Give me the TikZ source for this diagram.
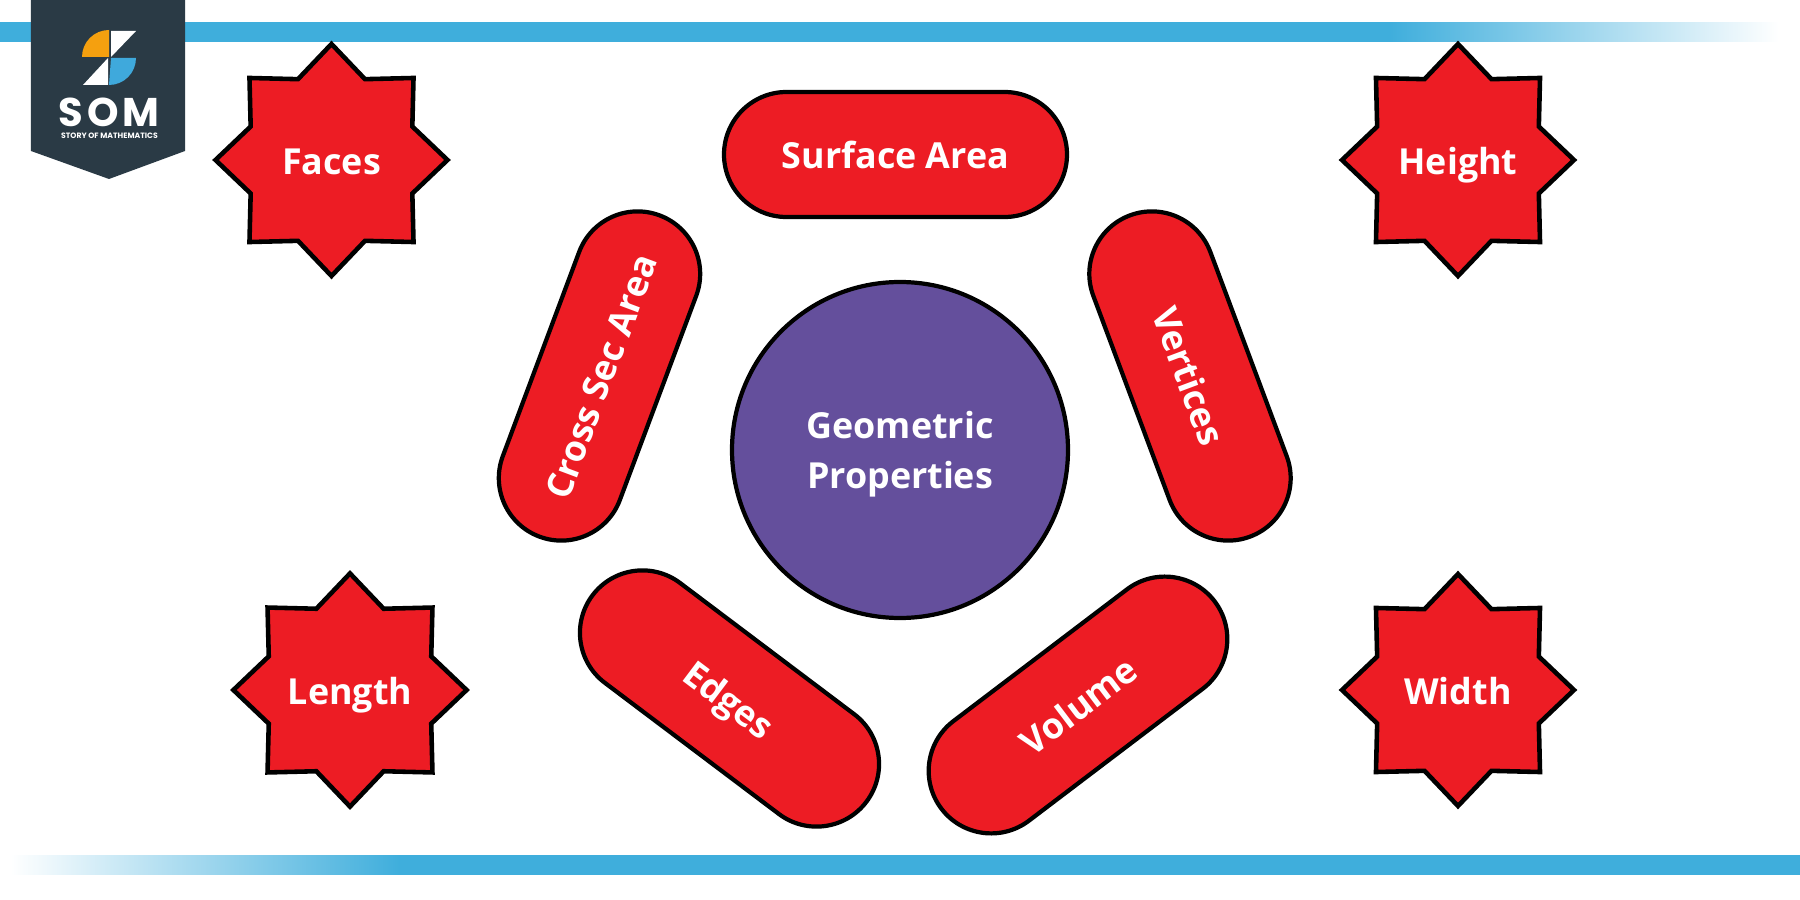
\documentclass[tikz,border=0pt]{standalone}
\usepackage{fontspec}
\setmainfont{Open Sans}
\newfontfamily\logofont[LetterSpace=9]{Poppins}
\newfontfamily\logosmallfont{Poppins}
\usetikzlibrary{shapes.geometric, shapes.misc}

\definecolor{barblue}{HTML}{3FAEDC}
\definecolor{logodark}{HTML}{2A3A45}
\definecolor{logoorange}{HTML}{F5A00F}
\definecolor{logoblue}{HTML}{3FA9DC}
\definecolor{propred}{HTML}{ED1C24}
\definecolor{proppurple}{HTML}{644F9C}

\pgfdeclarehorizontalshading{topbarfade}{100bp}{color(0bp)=(barblue); color(63.6bp)=(barblue); color(74.4bp)=(white); color(100bp)=(white)}
\pgfdeclarehorizontalshading{bottombarfade}{100bp}{color(0bp)=(white); color(25.3bp)=(white); color(36.1bp)=(barblue); color(100bp)=(barblue)}

\tikzset{
  propstar/.style={star, star points=8, star point ratio=1.326, minimum size=2.32cm,
    inner sep=0pt, draw=black, fill=propred, line width=1.3pt, miter limit=10,
    text=white, font=\fontsize{10.2}{12}\selectfont\bfseries, text height=0.29cm, text depth=0pt},
  proppill/.style={rounded rectangle, minimum width=3.43cm, minimum height=1.25cm,
    inner sep=0pt, draw=black, fill=propred, line width=1.2pt,
    text=white, font=\fontsize{10.2}{12}\selectfont\bfseries, text height=0.29cm, text depth=0pt},
}

\begin{document}
\begin{tikzpicture}

  \useasboundingbox (0, 0) rectangle (18, 9);
  \fill[white] (0, 0) rectangle (18, 9);

  % -- Bars --
  \shade[shading=topbarfade] (0, 8.58) rectangle (18, 8.77);
  \shade[shading=bottombarfade] (0, 0.26) rectangle (18, 0.45);

  % -- Logo --
  \fill[logodark] (0.31, 9) -- (1.85, 9) -- (1.85, 7.49) -- (1.09, 7.21) -- (0.31, 7.49) -- cycle;
  \fill[logoorange] (1.09, 8.43) -- (0.82, 8.43) arc (180:90:0.27) -- cycle;
  \fill[white] (1.11, 8.69) -- (1.36, 8.69) -- (1.11, 8.43) -- cycle;
  \fill[logoblue] (1.11, 8.42) -- (1.36, 8.42) arc (0:-90:0.27) -- cycle;
  \fill[white] (1.08, 8.42) -- (1.08, 8.15) -- (0.83, 8.15) -- cycle;
  \node[text=white, inner sep=0pt, font=\logofont\fontsize{11.4}{12}\selectfont\bfseries] (som) at (1.09, 7.88) {SOM};
  \node[text=white, inner sep=0pt, font=\logosmallfont\fontsize{2.2}{3}\selectfont\bfseries] (story) at (1.095, 7.645) {STORY OF MATHEMATICS};

  % -- Centre Circle --
  \node[circle, minimum size=3.36cm, inner sep=0pt, draw=black, fill=proppurple, line width=1.2pt,
    text=white, align=center, font=\fontsize{10.2}{14.2}\selectfont\bfseries] (geometric) at (9.0, 4.5) {\rule{0pt}{0.36cm}Geometric\\Properties};

  % -- Pills --
  \node[proppill] (surface) at (8.955, 7.455) {Surface Area};
  \node[proppill, rotate=69.5] (crosssec) at (5.995, 5.24) {Cross Sec Area};
  \node[proppill, rotate=-69.5] (vertices) at (11.90, 5.24) {Vertices};
  \node[proppill, rotate=-37] (edges) at (7.295, 2.015) {Edges};
  \node[proppill, rotate=37.2] (volume) at (10.78, 1.95) {Volume};

  % -- Stars --
  \node[propstar] (faces) at (3.315, 7.4) {Faces};
  \node[propstar] (height) at (14.58, 7.4) {Height};
  \node[propstar] (length) at (3.50, 2.1) {Length};
  \node[propstar] (width) at (14.58, 2.1) {Width};

\end{tikzpicture}
\end{document}
